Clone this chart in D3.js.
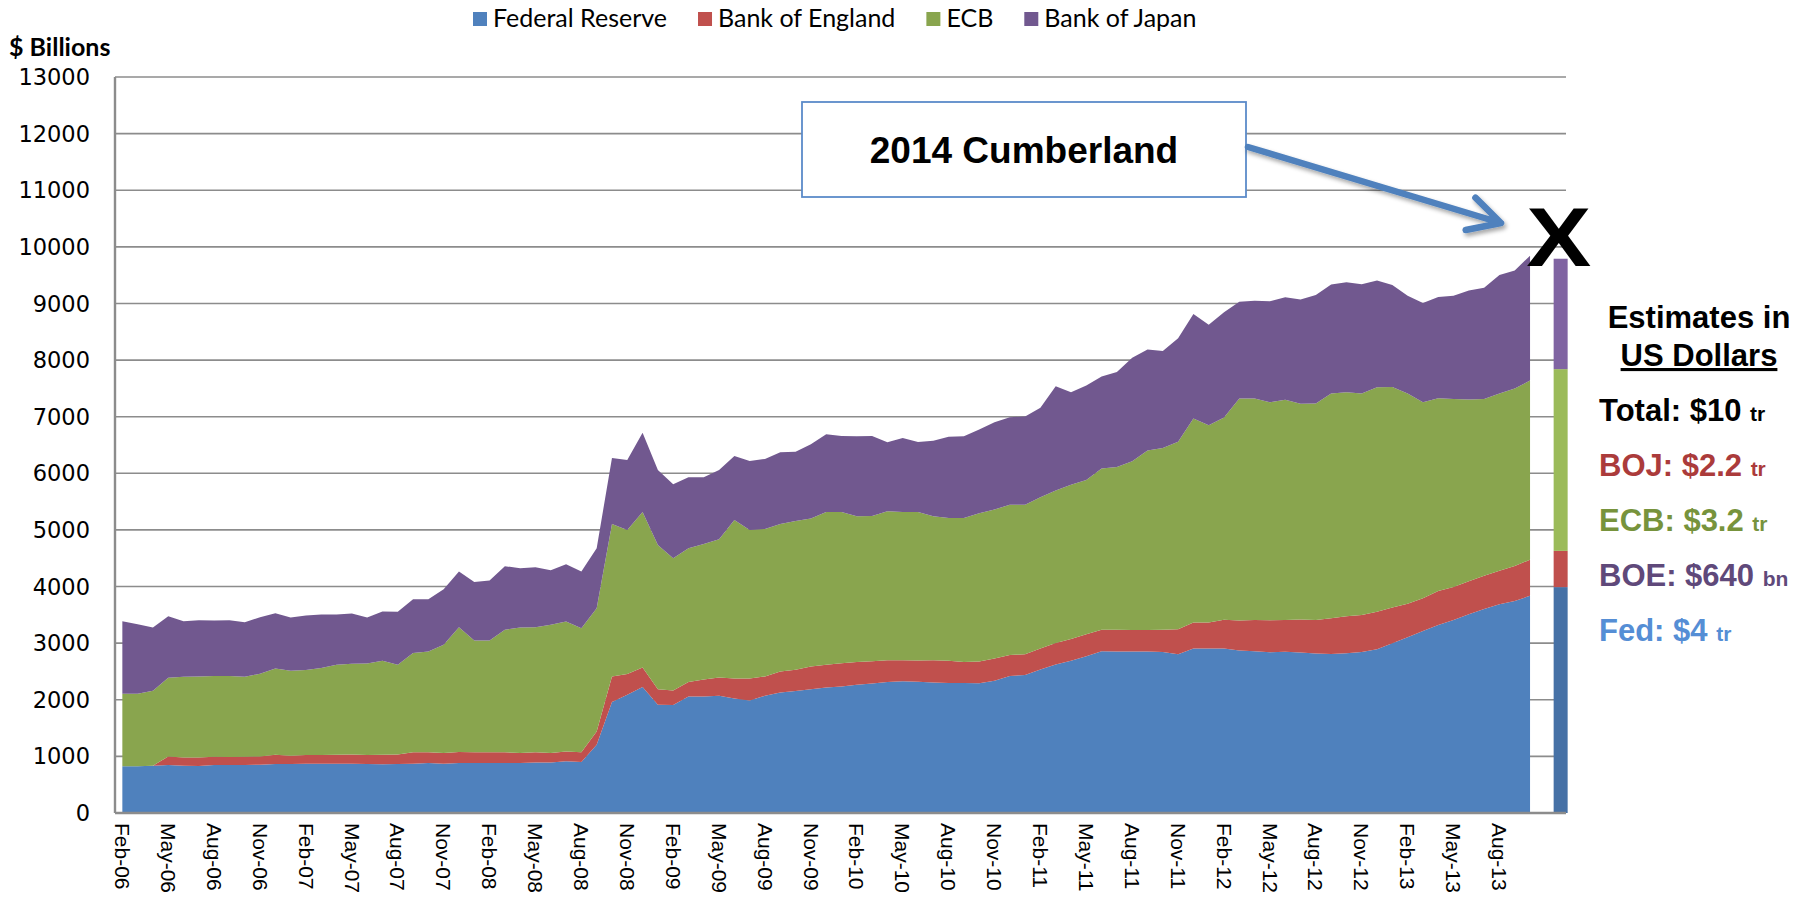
<!DOCTYPE html>
<html>
<head>
<meta charset="utf-8">
<script src="https://cdn.jsdelivr.net/npm/d3@7"></script>
<style>
    body { margin: 0; background: #fff; }
    svg { display: block; }
</style>
</head>
<body>
<div id="chart"></div>
<script>
// monthly categories, Feb-06 .. Oct-13
const months = [
    'Feb-06','Mar-06','Apr-06','May-06','Jun-06','Jul-06','Aug-06','Sep-06','Oct-06','Nov-06','Dec-06',
    'Jan-07','Feb-07','Mar-07','Apr-07','May-07','Jun-07','Jul-07','Aug-07','Sep-07','Oct-07','Nov-07','Dec-07',
    'Jan-08','Feb-08','Mar-08','Apr-08','May-08','Jun-08','Jul-08','Aug-08','Sep-08','Oct-08','Nov-08','Dec-08',
    'Jan-09','Feb-09','Mar-09','Apr-09','May-09','Jun-09','Jul-09','Aug-09','Sep-09','Oct-09','Nov-09','Dec-09',
    'Jan-10','Feb-10','Mar-10','Apr-10','May-10','Jun-10','Jul-10','Aug-10','Sep-10','Oct-10','Nov-10','Dec-10',
    'Jan-11','Feb-11','Mar-11','Apr-11','May-11','Jun-11','Jul-11','Aug-11','Sep-11','Oct-11','Nov-11','Dec-11',
    'Jan-12','Feb-12','Mar-12','Apr-12','May-12','Jun-12','Jul-12','Aug-12','Sep-12','Oct-12','Nov-12','Dec-12',
    'Jan-13','Feb-13','Mar-13','Apr-13','May-13','Jun-13','Jul-13','Aug-13','Sep-13','Oct-13'
];

// $ billions
const fed = [824,824,835,847,835,829,847,847,847,853,865,865,871,871,871,871,865,859,865,871,
    882,871,882,882,882,882,882,894,894,912,900,1206,1959,2088,2224,1912,1906,2059,2059,2071,
    2024,1988,2071,2129,2153,2188,2218,2235,2265,2288,2312,2329,2318,2306,2294,2294,2290,2337,2418,2439,
    2533,2621,2689,2770,2859,2852,2852,2852,2845,2804,2906,2906,2906,2872,2859,2840,2850,2837,2816,2809,
    2823,2844,2894,3000,3106,3213,3319,3411,3511,3603,3688,3745,3837];
const boe = [0,0,0,153,147,153,147,141,147,147,164,147,153,153,158,164,159,170,170,200,
    189,188,194,189,189,189,177,177,165,176,171,235,453,365,347,276,259,253,301,323,
    352,388,341,371,376,400,400,412,400,394,388,371,376,394,394,371,385,393,373,365,
    373,380,386,387,379,386,379,379,393,441,461,461,508,528,548,565,560,581,595,631,
    652,652,659,631,589,581,603,582,581,588,589,617,638];
const ecb = [1282,1282,1324,1388,1424,1430,1424,1430,1412,1459,1524,1500,1500,1535,1589,1600,1617,1659,1583,1753,
    1782,1912,2206,1976,1976,2164,2217,2211,2265,2294,2194,2177,2694,2547,2747,2547,2335,2364,2390,2441,
    2800,2624,2606,2606,2630,2612,2700,2671,2576,2565,2629,2618,2624,2541,2524,2547,2620,2630,2655,2642,
    2669,2696,2723,2723,2845,2872,2981,3170,3211,3312,3603,3481,3570,3922,3915,3850,3890,3809,3823,3971,
    3958,3915,3965,3894,3716,3461,3404,3319,3213,3121,3134,3134,3163];
const boj = [1282,1229,1117,1088,982,994,982,988,965,1000,976,941,964,947,888,889,812,871,935,952,
    923,982,983,1035,1059,1124,1048,1059,964,1012,1000,1058,1165,1235,1400,1324,1306,1253,1179,1224,
    1130,1218,1235,1265,1223,1312,1370,1341,1412,1412,1218,1306,1235,1335,1435,1441,1480,1540,1545,1558,
    1585,1842,1633,1673,1625,1680,1828,1788,1713,1829,1843,1775,1862,1707,1728,1785,1810,1844,1915,1922,
    1943,1929,1886,1801,1724,1752,1787,1823,1922,1965,2093,2086,2206];

const seriesKeys = ['fed','boe','ecb','boj'];
const seriesNames = ['Federal Reserve','Bank of England','ECB','Bank of Japan'];
const areaColors = ['#4f81bd','#c0504d','#89a54e','#71588f'];

// the stacked "estimate" column at the right end
const estimateValues = [3990, 640, 3210, 1950];
const estimateColors = ['#4671a6','#c0504d','#9bbb59','#8064a2'];
const estimateIndex = 94;

const yTicks = d3.range(0, 13001, 1000);

const estimateLines = [
    {big: 'Total: $10 ', small: 'tr', color: '#000000'},
    {big: 'BOJ: $2.2 ', small: 'tr', color: '#ab3b3b'},
    {big: 'ECB: $3.2 ', small: 'tr', color: '#77933c'},
    {big: 'BOE: $640 ', small: 'bn', color: '#5f497a'},
    {big: 'Fed: $4 ', small: 'tr', color: '#558ed5'}
];

const W = 1810, H = 913;
const plot = {left: 115, right: 1566, top: 77, bottom: 813};

const svg = d3.select('#chart').append('svg')
    .attr('width', W).attr('height', H);

const defs = svg.append('defs');
defs.append('filter').attr('id','shadow')
    .attr('x','-20%').attr('y','-50%').attr('width','140%').attr('height','200%')
    .append('feDropShadow')
    .attr('dx', 2).attr('dy', 3).attr('stdDeviation', 2)
    .attr('flood-color', '#000').attr('flood-opacity', 0.35);

var x = d3.scaleLinear()
    .domain([-0.48, 94.35])
    .range([plot.left, plot.right]);
var y = d3.scaleLinear()
    .domain([0, 13000])
    .range([plot.bottom, plot.top]);

// gridlines
svg.append('g')
    .selectAll('line')
    .data(yTicks.filter(d => d > 0))
    .join('line')
    .attr('x1', plot.left).attr('x2', plot.right)
    .attr('y1', d => y(d)).attr('y2', d => y(d))
    .attr('stroke', '#8c8c8c').attr('stroke-width', 1.6);

// stacked areas
const rows = months.map((m, i) => ({fed: fed[i], boe: boe[i], ecb: ecb[i], boj: boj[i]}));
const stacked = d3.stack().keys(seriesKeys)(rows);

const area = d3.area()
    .x((d, i) => x(i))
    .y0(d => y(d[0]))
    .y1(d => y(d[1]));

svg.append('g')
    .selectAll('path')
    .data(stacked)
    .join('path')
    .attr('fill', (d, i) => areaColors[i])
    .attr('d', area);

// big X over the estimate column
svg.append('text')
    .attr('transform', `translate(${x(estimateIndex) - 2},${y(9700) + 2}) scale(1.16,1)`)
    .attr('text-anchor', 'middle')
    .attr('font-family', 'Liberation Sans, Arial, sans-serif')
    .attr('font-weight', 'bold')
    .attr('font-size', 84)
    .attr('fill', '#000')
    .text('X');

// estimate column
const estRow = {};
seriesKeys.forEach((k, i) => estRow[k] = estimateValues[i]);
const estStack = d3.stack().keys(seriesKeys)([estRow]);
svg.append('g')
    .selectAll('rect')
    .data(estStack)
    .join('rect')
    .attr('x', x(estimateIndex) - 7)
    .attr('width', 14)
    .attr('y', d => y(d[0][1]))
    .attr('height', d => y(d[0][0]) - y(d[0][1]))
    .attr('fill', (d, i) => estimateColors[i]);

// axes lines
svg.append('line')
    .attr('x1', plot.left).attr('x2', plot.left)
    .attr('y1', plot.top).attr('y2', plot.bottom)
    .attr('stroke', '#8c8c8c').attr('stroke-width', 2.4);
svg.append('line')
    .attr('x1', plot.left).attr('x2', plot.right)
    .attr('y1', plot.bottom).attr('y2', plot.bottom)
    .attr('stroke', '#8c8c8c').attr('stroke-width', 2.4);

// y tick labels
svg.append('g')
    .selectAll('text')
    .data(yTicks)
    .join('text')
    .attr('x', 90)
    .attr('y', d => y(d))
    .attr('dy', '0.36em')
    .attr('text-anchor', 'end')
    .attr('font-family', 'DejaVu Sans, Verdana, sans-serif')
    .attr('font-size', 22.5)
    .attr('fill', '#000')
    .text(d => d);

svg.append('text')
    .attr('x', 9).attr('y', 56)
    .attr('font-family', 'Lato, sans-serif')
    .attr('font-weight', 'bold')
    .attr('font-size', 25)
    .text('$ Billions');

// x tick labels, every quarter, rotated to read downwards
const tickIdx = months.map((m, i) => i).filter(i => i % 3 === 0);
svg.append('g')
    .selectAll('text')
    .data(tickIdx)
    .join('text')
    .attr('transform', i => `translate(${x(i)},${plot.bottom + 10}) rotate(90)`)
    .attr('dy', '0.35em')
    .attr('font-family', 'Liberation Sans, Arial, sans-serif')
    .attr('font-size', 21)
    .attr('fill', '#000')
    .text(i => months[i]);

// legend
const legend = svg.append('g');
let lx = 473;
seriesNames.forEach((name, i) => {
    legend.append('rect')
        .attr('x', lx).attr('y', 12)
        .attr('width', 14).attr('height', 14)
        .attr('fill', areaColors[i]);
    const t = legend.append('text')
        .attr('x', lx + 20).attr('y', 27)
        .attr('font-family', 'Lato, sans-serif')
        .attr('font-size', 25)
        .attr('fill', '#000')
        .text(name);
    lx += 20 + t.node().getComputedTextLength() + 31;
});

// annotation box and arrow
svg.append('rect')
    .attr('x', 802).attr('y', 102)
    .attr('width', 444).attr('height', 95)
    .attr('fill', '#fff')
    .attr('stroke', '#5b8bc9').attr('stroke-width', 1.8);
svg.append('text')
    .attr('x', 1024).attr('y', 163)
    .attr('text-anchor', 'middle')
    .attr('font-family', 'Liberation Sans, Arial, sans-serif')
    .attr('font-weight', 'bold')
    .attr('font-size', 37)
    .text('2014 Cumberland');

const tip = [1501, 223], tail = [1248, 147];
const ang = Math.atan2(tip[1] - tail[1], tip[0] - tail[0]);
const armLen = 36, armAng = 28 * Math.PI / 180;
const arm = s => [tip[0] - armLen * Math.cos(ang + s * armAng), tip[1] - armLen * Math.sin(ang + s * armAng)];
const a1 = arm(1), a2 = arm(-1);
svg.append('path')
    .attr('d', `M${tail[0]},${tail[1]}L${tip[0]},${tip[1]}M${a1[0]},${a1[1]}L${tip[0]},${tip[1]}L${a2[0]},${a2[1]}`)
    .attr('fill', 'none')
    .attr('stroke', '#4f81bd')
    .attr('stroke-width', 6.5)
    .attr('stroke-linecap', 'round')
    .attr('stroke-linejoin', 'round')
    .attr('filter', 'url(#shadow)');

// estimates text block on the right
const side = svg.append('g')
    .attr('font-family', 'Liberation Sans, Arial, sans-serif')
    .attr('font-weight', 'bold');
side.append('text')
    .attr('x', 1699).attr('y', 328)
    .attr('text-anchor', 'middle')
    .attr('font-size', 31)
    .text('Estimates in');
side.append('text')
    .attr('x', 1699).attr('y', 366)
    .attr('text-anchor', 'middle')
    .attr('font-size', 31)
    .attr('text-decoration', 'underline')
    .text('US Dollars');

estimateLines.forEach((l, i) => {
    const t = side.append('text')
        .attr('x', 1599).attr('y', 421 + i * 55)
        .attr('fill', l.color);
    t.append('tspan').attr('font-size', 31).text(l.big);
    t.append('tspan').attr('font-size', 21).text(l.small);
});
</script>
</body>
</html>
